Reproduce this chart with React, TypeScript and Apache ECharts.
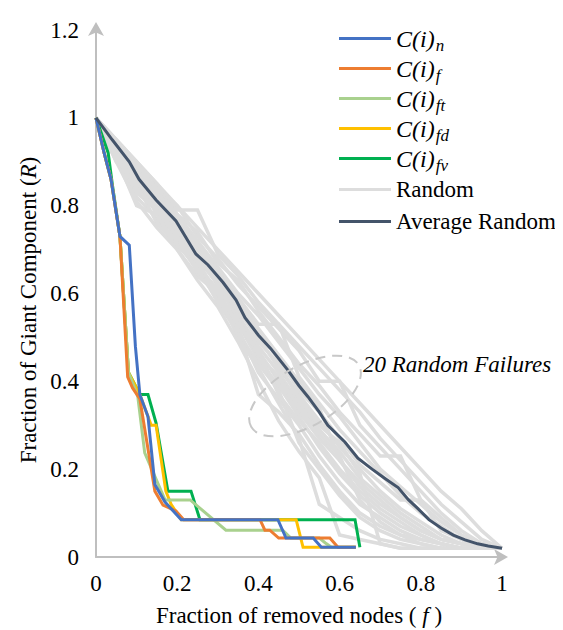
import React, { useEffect, useRef } from "react";
import * as echarts from "echarts";

// x ticks / y ticks
const X_TICKS = [0, 0.2, 0.4, 0.6, 0.8, 1];
const Y_TICKS = [0, 0.2, 0.4, 0.6, 0.8, 1, 1.2];

// targeted-attack curves, [fraction removed, giant component]
const cN = [[0,1],[0.02,0.92],[0.037,0.86],[0.059,0.73],[0.082,0.71],[0.097,0.48],[0.108,0.37],[0.128,0.32],[0.145,0.165],[0.17,0.125],[0.21,0.085],[0.448,0.085],[0.468,0.043],[0.535,0.043],[0.555,0.022],[0.64,0.022]];
const cF = [[0,1],[0.02,0.92],[0.037,0.86],[0.059,0.73],[0.078,0.41],[0.09,0.385],[0.108,0.36],[0.145,0.15],[0.165,0.118],[0.197,0.105],[0.216,0.085],[0.404,0.085],[0.416,0.061],[0.428,0.061],[0.45,0.043],[0.576,0.043],[0.596,0.022],[0.64,0.022]];
const cFt = [[0,1],[0.02,0.92],[0.037,0.86],[0.059,0.73],[0.08,0.42],[0.103,0.365],[0.12,0.237],[0.17,0.13],[0.232,0.13],[0.32,0.061],[0.46,0.061],[0.48,0.043],[0.55,0.043],[0.565,0.032],[0.58,0.022],[0.64,0.022]];
const cFd = [[0,1],[0.02,0.92],[0.037,0.86],[0.059,0.73],[0.08,0.42],[0.108,0.37],[0.136,0.30],[0.148,0.30],[0.172,0.15],[0.185,0.12],[0.21,0.085],[0.493,0.085],[0.51,0.022],[0.64,0.022]];
const cFv = [[0,1],[0.03,0.92],[0.04,0.85],[0.059,0.73],[0.08,0.42],[0.108,0.37],[0.128,0.37],[0.148,0.305],[0.177,0.15],[0.234,0.15],[0.256,0.085],[0.638,0.085],[0.65,0.022]];

// average of random failures
const avgRandom = [[0,1],[0.04,0.95],[0.082,0.9],[0.106,0.86],[0.148,0.813],[0.197,0.765],[0.246,0.69],[0.276,0.665],[0.313,0.625],[0.345,0.585],[0.367,0.545],[0.4,0.505],[0.43,0.475],[0.473,0.425],[0.5,0.39],[0.522,0.365],[0.55,0.33],[0.571,0.3],[0.613,0.262],[0.645,0.225],[0.68,0.2],[0.71,0.18],[0.744,0.158],[0.77,0.13],[0.793,0.11],[0.82,0.085],[0.85,0.066],[0.88,0.05],[0.909,0.039],[0.94,0.03],[0.966,0.025],[1,0.02]];

// 20 random failure runs sampled at these fractions
const RANDOM_F = [0,0.05,0.1,0.15,0.2,0.25,0.3,0.35,0.4,0.45,0.5,0.55,0.6,0.65,0.7,0.75,0.8,0.85,0.9,0.95,1];
const r01 = [1,.95,.90,.85,.80,.75,.70,.65,.60,.55,.50,.45,.40,.35,.30,.25,.20,.15,.11,.06,.02];
const r02 = [1,.95,.90,.85,.79,.79,.69,.64,.58,.53,.48,.43,.38,.33,.27,.22,.17,.12,.08,.04,.02];
const r03 = [1,.94,.89,.84,.80,.73,.68,.62,.57,.52,.47,.40,.40,.30,.25,.20,.15,.10,.06,.03,.02];
const r04 = [1,.95,.88,.84,.78,.74,.67,.63,.56,.50,.44,.39,.33,.28,.23,.23,.13,.09,.05,.03,.02];
const r05 = [1,.94,.90,.83,.78,.72,.66,.60,.55,.49,.43,.37,.32,.26,.20,.16,.12,.08,.05,.03,.02];
const r06 = [1,.93,.87,.82,.77,.71,.65,.59,.53,.53,.41,.35,.29,.24,.19,.14,.10,.07,.04,.02,.02];
const r07 = [1,.94,.86,.82,.76,.70,.64,.57,.51,.45,.38,.33,.27,.21,.17,.13,.13,.06,.04,.02,.02];
const r08 = [1,.93,.88,.81,.75,.69,.63,.56,.50,.43,.37,.31,.25,.20,.15,.11,.08,.05,.03,.02,.02];
const r09 = [1,.92,.85,.80,.74,.68,.62,.55,.48,.42,.35,.29,.24,.18,.14,.10,.07,.04,.03,.02,.02];
const r10 = [1,.94,.87,.83,.77,.70,.63,.58,.52,.46,.40,.34,.22,.17,.13,.09,.06,.04,.03,.02,.02];
const r11 = [1,.93,.84,.79,.76,.69,.62,.54,.47,.40,.33,.27,.22,.16,.12,.09,.06,.04,.03,.02,.02];
const r12 = [1,.92,.86,.78,.73,.67,.60,.53,.45,.39,.32,.25,.19,.14,.10,.07,.05,.03,.02,.02,.02];
const r13 = [1,.91,.83,.80,.72,.66,.61,.52,.42,.36,.30,.23,.17,.12,.09,.06,.04,.03,.02,.02,.02];
const r14 = [1,.92,.82,.77,.72,.65,.59,.52,.37,.33,.28,.21,.15,.10,.07,.05,.04,.03,.02,.02,.02];
const r15 = [1,.90,.85,.76,.71,.66,.58,.51,.44,.38,.26,.20,.14,.09,.06,.04,.03,.02,.02,.02,.02];
const r16 = [1,.91,.80,.78,.70,.64,.60,.50,.43,.35,.27,.12,.09,.06,.04,.03,.02,.02,.02,.02,.02];
const r17 = [1,.90,.81,.75,.70,.63,.57,.49,.40,.31,.24,.18,.05,.04,.03,.02,.02,.02,.02,.02,.02];
const r18 = [1,.92,.83,.79,.74,.68,.58,.54,.46,.41,.34,.28,.23,.13,.08,.05,.03,.02,.02,.02,.02];
const r19 = [1,.93,.86,.80,.75,.69,.64,.57,.49,.44,.36,.30,.26,.19,.03,.02,.02,.02,.02,.02,.02];
const r20 = [1,.91,.84,.79,.73,.67,.60,.53,.47,.37,.31,.26,.20,.15,.11,.08,.05,.03,.02,.02,.02];
const RANDOM_RUNS = [r01,r02,r03,r04,r05,r06,r07,r08,r09,r10,r11,r12,r13,r14,r15,r16,r17,r18,r19,r20];

const LEGEND_NAMES = ["C(i)n","C(i)f","C(i)ft","C(i)fd","C(i)fv","Random","Average Random"];

const SERIF = "Liberation Serif";
const GREY_AXIS = "#BFBFBF";
const FONT_CSS = `#root svg text, #root svg tspan { font-family: "Liberation Serif", "DejaVu Serif", "Times New Roman", serif !important; }`;

export default function App() {
  const ref = useRef<HTMLDivElement>(null);
  useEffect(() => {
    if (!ref.current) return;
    const chart = echarts.init(ref.current, undefined, { renderer: "svg" });

    const line = (name: string, data: number[][], color: string, z: number, width = 3) => ({
      type: "line",
      name,
      data,
      symbol: "none",
      showSymbol: false,
      z,
      silent: true,
      itemStyle: { color },
      lineStyle: { color, width, cap: "butt", join: "miter" },
    });

    const series: any[] = [];
    RANDOM_RUNS.forEach((run) => {
      series.push(line("Random", RANDOM_F.map((f, i) => [f, run[i]]), "#DDDDDD", 2, 3.5));
    });
    series.push(line("C(i)fv", cFv, "#00B050", 3));
    series.push(line("C(i)fd", cFd, "#FFC000", 3));
    series.push(line("C(i)ft", cFt, "#A9D18E", 3));
    series.push(line("C(i)f", cF, "#ED7D31", 3));
    series.push(line("C(i)n", cN, "#4472C4", 3));
    series.push(line("Average Random", avgRandom, "#44546A", 4));

    chart.setOption({
      animation: false,
      grid: { left: 88, right: 69, top: 22, bottom: 81, containLabel: false },
      xAxis: {
        type: "value",
        min: X_TICKS[0],
        max: X_TICKS[X_TICKS.length - 1],
        interval: 0.2,
        splitLine: { show: false },
        axisTick: { show: false },
        axisLine: {
          show: true,
          onZero: false,
          lineStyle: { color: GREY_AXIS, width: 2 },
          symbol: ["none", "arrow"],
          symbolSize: [12, 14],
          symbolOffset: [0, 6],
        },
        axisLabel: { color: "#000", fontSize: 23, fontFamily: SERIF, margin: 15 },
      },
      yAxis: {
        type: "value",
        min: Y_TICKS[0],
        max: Y_TICKS[Y_TICKS.length - 1],
        interval: 0.2,
        splitLine: { show: false },
        axisTick: { show: false },
        axisLine: {
          show: true,
          onZero: false,
          lineStyle: { color: GREY_AXIS, width: 2 },
          symbol: ["none", "arrow"],
          symbolSize: [12, 14],
          symbolOffset: [0, 8],
        },
        axisLabel: { color: "#000", fontSize: 23, fontFamily: SERIF, margin: 17 },
      },
      legend: {
        data: LEGEND_NAMES,
        orient: "vertical",
        left: 331,
        top: 15,
        padding: 0,
        icon: "rect",
        itemWidth: 52,
        itemHeight: 3,
        itemGap: -1,
        selectedMode: false,
        formatter: (name: string) =>
          name.startsWith("C(i)") ? `{c|C(i)}{s|${name.slice(4)}}` : `{t|${name}}`,
        textStyle: {
          color: "#000",
          fontFamily: SERIF,
          fontSize: 23,
          rich: {
            c: { fontFamily: SERIF, fontStyle: "italic", fontSize: 24, color: "#000", lineHeight: 24 },
            s: { fontFamily: SERIF, fontStyle: "italic", fontSize: 17, color: "#000", padding: [14, 0, 0, 1], lineHeight: 10 },
            t: { fontFamily: SERIF, fontSize: 23, color: "#000", lineHeight: 24, padding: [5, 0, 5, 0] },
          },
        },
      },
      graphic: [
        {
          type: "text",
          x: 20,
          y: 302,
          rotation: Math.PI / 2,
          style: {
            text: "Fraction of Giant Component ({i|R})",
            fontFamily: SERIF,
            fontSize: 23,
            fill: "#000",
            align: "center",
            verticalAlign: "middle",
            rich: { i: { fontFamily: SERIF, fontSize: 23, fontStyle: "italic", fill: "#000" } },
          },
        },
        {
          type: "text",
          x: 291,
          y: 607,
          style: {
            text: "Fraction of removed nodes ( {i|f} )",
            fontFamily: SERIF,
            fontSize: 23,
            fill: "#000",
            align: "center",
            verticalAlign: "middle",
            rich: { i: { fontFamily: SERIF, fontSize: 23, fontStyle: "italic", fill: "#000" } },
          },
        },
        {
          type: "text",
          x: 355,
          y: 356,
          style: {
            text: "20 Random Failures",
            fontFamily: SERIF,
            fontSize: 23,
            fontStyle: "italic",
            fill: "#000",
            align: "left",
            verticalAlign: "middle",
          },
        },
        {
          type: "ellipse",
          x: 297,
          y: 388,
          rotation: 0.52,
          shape: { cx: 0, cy: 0, rx: 62, ry: 30 },
          style: { fill: "none", stroke: "#C8C8C8", lineWidth: 2, lineDash: [10, 7] },
          z: 100,
        },
      ],
      series,
    });
    return () => chart.dispose();
  }, []);
  return (
    <>
      <style>{FONT_CSS}</style>
      <div ref={ref} style={{ width: 563, height: 630 }} />
    </>
  );
}
